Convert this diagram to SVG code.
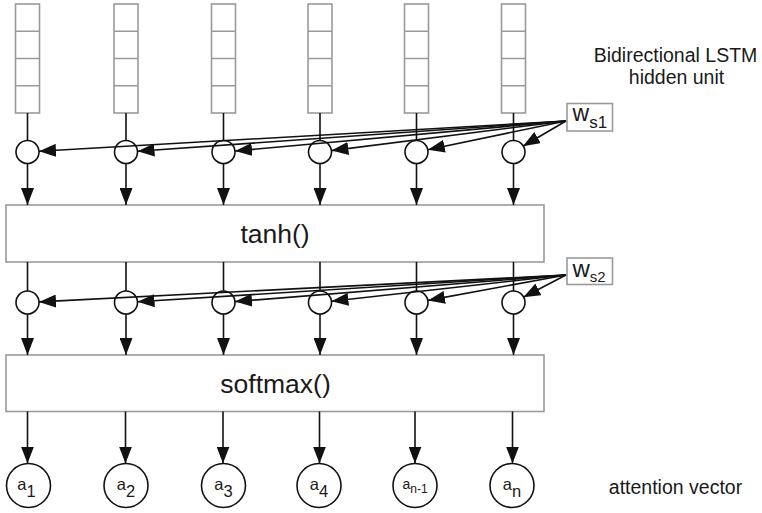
<svg xmlns="http://www.w3.org/2000/svg" width="762" height="513" viewBox="0 0 762 513">
<defs>
<style>
.box{fill:#fff;stroke:#9a9a9a;stroke-width:1.6}
.cell{fill:none;stroke:#9a9a9a;stroke-width:1.6}
.node{fill:#fff;stroke:#111;stroke-width:1.6}
.ln{fill:none;stroke:#111;stroke-width:1.6}
.arr{fill:none;stroke:#111;stroke-width:1.6;marker-end:url(#ah)}
text{font-family:"Liberation Sans",Arial,Helvetica,sans-serif;fill:#1a1a1a}
.big{font-size:26.5px;text-anchor:middle}
.side{font-size:19.5px;text-anchor:middle}
.lab{font-size:16.5px;text-anchor:middle}
</style>
<marker id="ah" markerUnits="userSpaceOnUse" markerWidth="17" markerHeight="13" refX="17" refY="6.5" orient="auto">
<path d="M0,0 L17,6.5 L0,13 z" fill="#111"/>
</marker>
<g id="stack-shape">
<rect class="cell" x="-12" y="4" width="24" height="109"/>
<path class="cell" d="M-12,31.25 H12 M-12,58.5 H12 M-12,85.75 H12"/>
</g>
</defs>

<g id="stacks">
<use id="h1" href="#stack-shape" x="27.5"/>
<use id="h2" href="#stack-shape" x="126"/>
<use id="h3" href="#stack-shape" x="223.5"/>
<use id="h4" href="#stack-shape" x="320"/>
<use id="h5" href="#stack-shape" x="416.5"/>
<use id="h6" href="#stack-shape" x="513.5"/>
</g>

<g id="mult1">
<circle class="node" cx="27.5" cy="152" r="11.5"/>
<circle class="node" cx="126" cy="152" r="11.5"/>
<circle class="node" cx="223.5" cy="152" r="11.5"/>
<circle class="node" cx="320" cy="152" r="11.5"/>
<circle class="node" cx="416.5" cy="152" r="11.5"/>
<circle class="node" cx="513.5" cy="152" r="11.5"/>
</g>

<g id="tanh">
<rect class="box" x="6" y="205" width="538" height="57"/>
<text class="big" x="275" y="243">tanh()</text>
</g>

<g id="mult2">
<circle class="node" cx="27.5" cy="302.5" r="11.5"/>
<circle class="node" cx="126" cy="302.5" r="11.5"/>
<circle class="node" cx="223.5" cy="302.5" r="11.5"/>
<circle class="node" cx="320" cy="302.5" r="11.5"/>
<circle class="node" cx="416.5" cy="302.5" r="11.5"/>
<circle class="node" cx="513.5" cy="302.5" r="11.5"/>
</g>

<g id="softmax">
<rect class="box" x="6" y="355" width="538" height="56.5"/>
<text class="big" x="275.5" y="392.5">softmax()</text>
</g>

<g id="ws1">
<rect class="box" x="567" y="103.5" width="45.5" height="27.5"/>
<text x="572.5" y="120.5" font-size="23">w<tspan font-size="17" dy="7.8">s1</tspan></text>
</g>

<g id="ws2">
<rect class="box" x="567" y="258" width="45.5" height="26.5"/>
<text x="572.5" y="276.5" font-size="24">w<tspan font-size="15" dy="5.8">s2</tspan></text>
</g>

<g id="outputs">
<g id="a1"><circle class="node" cx="28.5" cy="485.5" r="22"/><text class="lab" x="26.5" y="490">a<tspan dy="6.5">1</tspan></text></g>
<g id="a2"><circle class="node" cx="126" cy="485.5" r="22"/><text class="lab" x="126" y="490">a<tspan dy="6.5">2</tspan></text></g>
<g id="a3"><circle class="node" cx="223.5" cy="485.5" r="22"/><text class="lab" x="223.5" y="490">a<tspan dy="6.5">3</tspan></text></g>
<g id="a4"><circle class="node" cx="319" cy="485.5" r="22"/><text class="lab" x="319" y="490">a<tspan dy="6.5">4</tspan></text></g>
<g id="an-1"><circle class="node" cx="415" cy="485.5" r="22"/><text x="415" y="489" font-size="14" text-anchor="middle">a<tspan font-size="12" dy="4">n-1</tspan></text></g>
<g id="an"><circle class="node" cx="512" cy="485.5" r="22"/><text class="lab" x="512" y="490">a<tspan dy="6.5">n</tspan></text></g>
</g>

<g id="labels">
<text class="side" x="675.5" y="61.5">Bidirectional LSTM</text>
<text class="side" x="676.5" y="83.5">hidden unit</text>
<text class="side" x="675.5" y="494">attention vector</text>
</g>

<g id="connectors">
<path class="ln" d="M27.5,113V140.5 M126,113V140.5 M223.5,113V140.5 M320,113V140.5 M416.5,113V140.5 M513.5,113V140.5"/>
<path class="arr" d="M27.5,163.5V205"/>
<path class="arr" d="M126,163.5V205"/>
<path class="arr" d="M223.5,163.5V205"/>
<path class="arr" d="M320,163.5V205"/>
<path class="arr" d="M416.5,163.5V205"/>
<path class="arr" d="M513.5,163.5V205"/>
<path class="arr" d="M566,121L39,151.3"/>
<path class="arr" d="M566,121L137.5,151.2"/>
<path class="arr" d="M566,121L235,151"/>
<path class="arr" d="M566,121L331.4,150.6"/>
<path class="arr" d="M566,121L427.8,149.7"/>
<path class="arr" d="M566,121L522.9,146.2"/>
<path class="ln" d="M27.5,262V291 M126,262V291 M223.5,262V291 M320,262V291 M416.5,262V291 M513.5,262V291"/>
<path class="arr" d="M27.5,314V355"/>
<path class="arr" d="M126,314V355"/>
<path class="arr" d="M223.5,314V355"/>
<path class="arr" d="M320,314V355"/>
<path class="arr" d="M416.5,314V355"/>
<path class="arr" d="M513.5,314V355"/>
<path class="arr" d="M566,275L39,301.9"/>
<path class="arr" d="M566,275L137.5,301.8"/>
<path class="arr" d="M566,275L235,301.6"/>
<path class="arr" d="M566,275L331.4,301.2"/>
<path class="arr" d="M566,275L428,300.4"/>
<path class="arr" d="M566,275L523.3,297.2"/>
<path class="arr" d="M27.5,411.5V463.5"/>
<path class="arr" d="M125.5,411.5V463.5"/>
<path class="arr" d="M223,411.5V463.5"/>
<path class="arr" d="M319.5,411.5V463.5"/>
<path class="arr" d="M415,411.5V463.5"/>
<path class="arr" d="M512.5,411.5V463.5"/>
</g>
</svg>
